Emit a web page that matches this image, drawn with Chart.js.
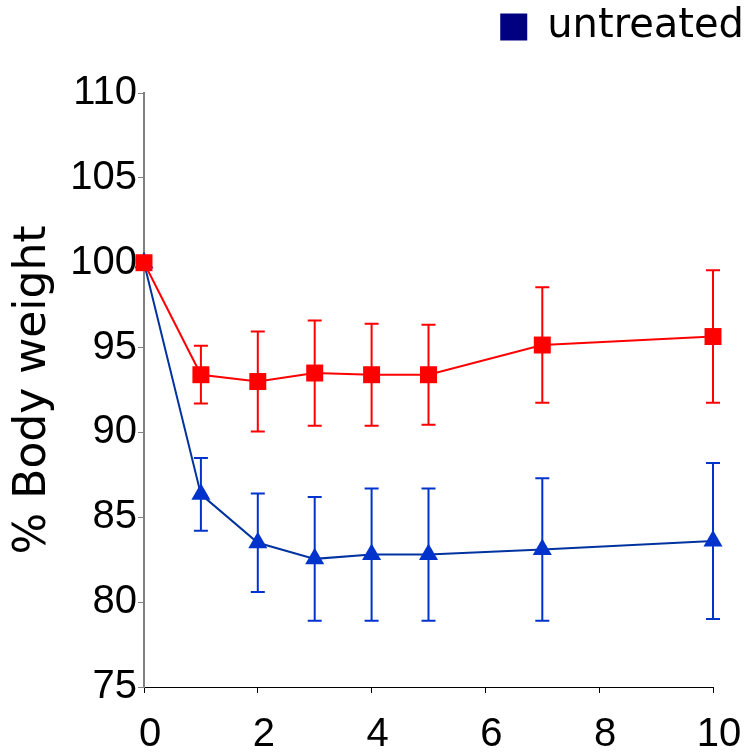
<!DOCTYPE html>
<html>
<head>
<meta charset="utf-8">
<script src="https://cdn.jsdelivr.net/npm/chart.js@4.4.1/dist/chart.umd.min.js"></script>
<style>
    html, body { margin: 0; padding: 0; background: #fff; }
    #wrap { width: 751px; height: 754px; }
</style>
</head>
<body>
<div id="wrap"><canvas id="grafico"></canvas></div>
<script>
    // dias tras el tratamiento
    const days = [0, 1, 2, 3, 4, 5, 7, 10];
    // serie roja (cuadrados)
    const redMean = [100, 93.4, 93.0, 93.5, 93.4, 93.4, 95.15, 95.65];
    const redSd = [0, 1.7, 2.95, 3.1, 3.0, 2.95, 3.4, 3.9];
    // serie azul (triangulos)
    const blueMean = [100, 86.35, 83.5, 82.55, 82.8, 82.8, 83.1, 83.6];
    const blueSd = [0, 2.15, 2.9, 3.65, 3.9, 3.9, 4.2, 4.6];

    const xTickStep = 2;
    const yMin = 75, yMax = 110, yTickStep = 5;
    const yTitle = '% Body weight';
    const legendText = 'untreated';

    const tickFont = { family: '"Liberation Sans", Arial, sans-serif', size: 40 };
    const titleFont = { family: '"DejaVu Sans", sans-serif', size: 44 };
    const legendFont = { family: '"DejaVu Sans", sans-serif', size: 40 };

    function toPoints(xs, ys) {
        return xs.map((x, i) => ({ x, y: ys[i] }));
    }

    const errorBars = {
        id: 'errorBars',
        beforeDatasetsDraw(chart) {
            const { ctx, scales } = chart;
            chart.data.datasets.forEach((ds) => {
                if (!ds.errors) return;
                ctx.save();
                ctx.strokeStyle = ds.errorColor;
                ctx.lineWidth = 2;
                ds.data.forEach((p, i) => {
                    const sd = ds.errors[i];
                    if (!sd) return;
                    const px = scales.x.getPixelForValue(p.x);
                    const top = scales.y.getPixelForValue(p.y + sd);
                    const bot = scales.y.getPixelForValue(p.y - sd);
                    ctx.beginPath();
                    ctx.moveTo(px, top); ctx.lineTo(px, bot);
                    ctx.moveTo(px - 7, top); ctx.lineTo(px + 7, top);
                    ctx.moveTo(px - 7, bot); ctx.lineTo(px + 7, bot);
                    ctx.stroke();
                });
                ctx.restore();
            });
        }
    };

    // la leyenda ocupa todo el margen superior, asi el area del grafico empieza en y=93
    const legendSpace = {
        id: 'legendSpace',
        beforeLayout(chart) {
            const legend = chart.legend;
            if (!legend || legend._patched) return;
            const fit = legend.fit;
            legend.fit = function () {
                fit.call(this);
                this.height = 93;
            };
            legend._patched = true;
        }
    };

    new Chart(document.getElementById('grafico'), {
        type: 'line',
        data: {
            datasets: [
                {
                    data: toPoints(days, redMean),
                    errors: redSd,
                    errorColor: '#ff0000',
                    borderColor: '#ff0000',
                    backgroundColor: '#ff0000',
                    borderWidth: 2,
                    pointStyle: 'rect',
                    pointRadius: 12,
                    pointBorderWidth: 0,
                    tension: 0,
                    clip: false
                },
                {
                    data: toPoints(days, blueMean),
                    errors: blueSd,
                    errorColor: '#0033cc',
                    borderColor: '#0033a0',
                    backgroundColor: '#0033cc',
                    borderWidth: 2,
                    pointStyle: 'triangle',
                    pointRadius: 11,
                    pointBorderWidth: 0,
                    tension: 0,
                    clip: false
                }
            ]
        },
        options: {
            responsive: true,
            maintainAspectRatio: false,
            animation: false,
            layout: { padding: 0 },
            plugins: {
                tooltip: { enabled: false },
                legend: {
                    position: 'top',
                    align: 'end',
                    onClick: null,
                    labels: {
                        boxWidth: 27,
                        boxHeight: 27,
                        padding: 7,
                        color: '#000',
                        font: legendFont,
                        generateLabels: () => [{
                            text: legendText,
                            fillStyle: '#000080',
                            strokeStyle: '#000080',
                            lineWidth: 0,
                            hidden: false
                        }]
                    }
                }
            },
            scales: {
                x: {
                    type: 'linear',
                    min: 0,
                    max: 10,
                    afterFit: (s) => { s.height = 67; s.paddingRight = 38; },
                    ticks: { stepSize: xTickStep, color: '#000', font: tickFont, padding: 18, labelOffset: 6, maxRotation: 0 },
                    grid: { drawOnChartArea: false, tickLength: 6, color: '#000' },
                    border: { color: '#000', width: 1 }
                },
                y: {
                    min: yMin,
                    max: yMax,
                    afterFit: (s) => { s.width = 144; },
                    ticks: { stepSize: yTickStep, color: '#000', font: tickFont, padding: 1 },
                    grid: { drawOnChartArea: false, tickLength: 6, color: '#808080' },
                    border: { color: '#808080', width: 2 },
                    title: { display: true, text: yTitle, color: '#000', font: titleFont, padding: { top: 7, bottom: 0 } }
                }
            }
        },
        plugins: [errorBars, legendSpace]
    });
</script>
</body>
</html>
